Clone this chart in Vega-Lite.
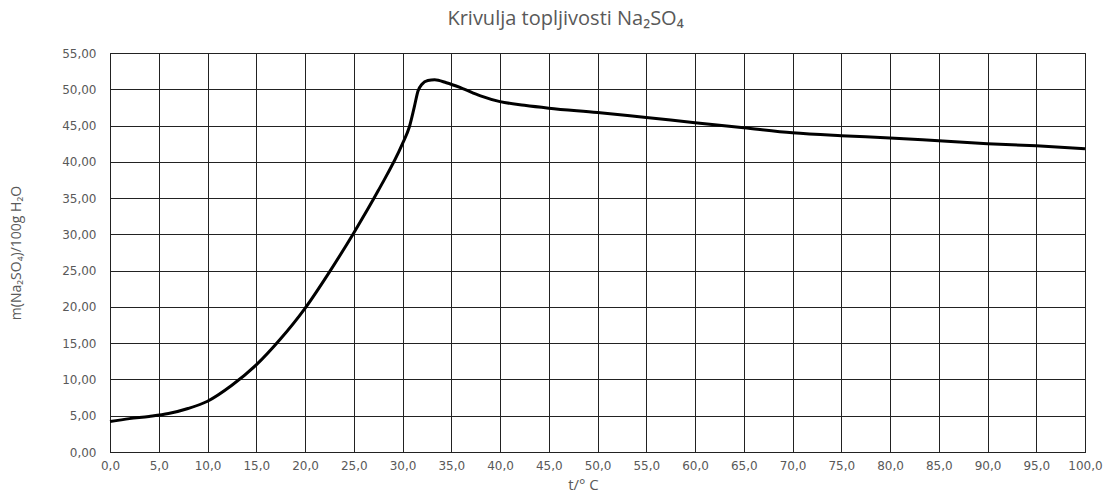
{
  "$schema": "https://vega.github.io/schema/vega-lite/v6.json",
  "autosize": {"type": "none"},
  "width": 975,
  "height": 399,
  "padding": {"left": 110, "top": 53, "right": 21, "bottom": 46},
  "background": "white",
  "title": {"text": "Krivulja topljivosti Na₂SO₄", "font": "Open Sans", "fontSize": 20, "fontWeight": "normal", "color": "#595959", "dx": -32, "offset": 18},
  "data": {"values": [
    {"t": 0, "m": 4.2}, {"t": 2, "m": 4.6}, {"t": 4, "m": 4.9}, {"t": 6, "m": 5.3},
    {"t": 8, "m": 6.0}, {"t": 10, "m": 7.0}, {"t": 12.5, "m": 9.2}, {"t": 15, "m": 12.0},
    {"t": 17.5, "m": 15.6}, {"t": 20, "m": 19.8}, {"t": 22.5, "m": 24.8}, {"t": 25, "m": 30.2},
    {"t": 27.5, "m": 36.0}, {"t": 30, "m": 42.5}, {"t": 30.7, "m": 44.8}, {"t": 31.2, "m": 47.5},
    {"t": 31.6, "m": 49.8}, {"t": 32.0, "m": 50.7}, {"t": 32.6, "m": 51.2}, {"t": 33.3, "m": 51.3},
    {"t": 34.5, "m": 50.9}, {"t": 36, "m": 50.2}, {"t": 38, "m": 49.1}, {"t": 40, "m": 48.3},
    {"t": 42.5, "m": 47.8}, {"t": 45, "m": 47.4}, {"t": 50, "m": 46.8}, {"t": 55, "m": 46.1},
    {"t": 60, "m": 45.4}, {"t": 65, "m": 44.7}, {"t": 70, "m": 44.0}, {"t": 75, "m": 43.6},
    {"t": 80, "m": 43.3}, {"t": 85, "m": 42.9}, {"t": 90, "m": 42.5}, {"t": 95, "m": 42.2},
    {"t": 100, "m": 41.8}
  ]},
  "mark": {"type": "line", "color": "black", "strokeWidth": 3, "interpolate": "monotone"},
  "encoding": {
    "x": {"field": "t", "type": "quantitative",
      "scale": {"domain": [0, 100], "nice": false},
      "axis": {"values": [0,5,10,15,20,25,30,35,40,45,50,55,60,65,70,75,80,85,90,95,100],
        "labelExpr": "replace(format(datum.value, '.1f'), '.', ',')",
        "labelFlush": false, "labelOverlap": false, "labelBound": false,
        "title": "t/° C", "titleFont": "Open Sans", "titleFontWeight": "normal", "titleFontSize": 15, "titleColor": "#595959", "titlePadding": 6, "titleX": 473,
        "labelFont": "DejaVu Sans", "labelFontSize": 12, "labelColor": "#595959", "labelPadding": 8,
        "ticks": false, "grid": true, "gridColor": "#222", "gridOpacity": 1, "gridWidth": 1,
        "domainColor": "#222", "domainWidth": 1}},
    "y": {"field": "m", "type": "quantitative",
      "scale": {"domain": [0, 55], "nice": false},
      "axis": {"values": [0,5,10,15,20,25,30,35,40,45,50,55],
        "labelExpr": "replace(format(datum.value, '.2f'), '.', ',')",
        "labelFlush": false, "labelOverlap": false, "labelBound": false,
        "title": "m(Na₂SO₄)/100g H₂O", "titleFont": "Open Sans", "titleFontWeight": "normal", "titleFontSize": 14, "titleColor": "#595959", "titlePadding": 38,
        "labelFont": "DejaVu Sans", "labelFontSize": 12, "labelColor": "#595959", "labelPadding": 14,
        "ticks": false, "grid": true, "gridColor": "#222", "gridOpacity": 1, "gridWidth": 1,
        "domainColor": "#222", "domainWidth": 1}}
  },
  "config": {"view": {"stroke": "#222", "strokeWidth": 1}}
}
